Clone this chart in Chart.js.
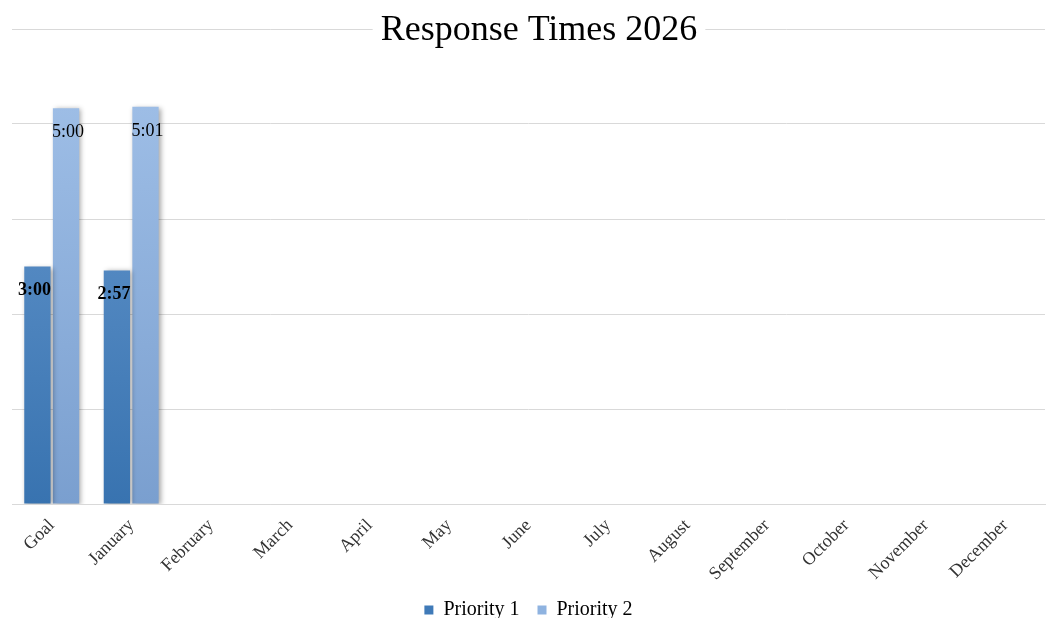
<!DOCTYPE html>
<html>
<head>
<meta charset="utf-8">
<script src="https://cdn.jsdelivr.net/npm/chart.js@4/dist/chart.umd.min.js"></script>
<style>
  html, body { margin: 0; padding: 0; background: #fff; }
  #wrap { width: 1047px; height: 618px; position: relative; }
</style>
</head>
<body>
<div id="wrap"><canvas id="responseChart"></canvas></div>
<script>
const categories = ['Goal', 'January', 'February', 'March', 'April', 'May', 'June',
    'July', 'August', 'September', 'October', 'November', 'December'];

// response times in seconds
const priority1 = [180, 177, null, null, null, null, null, null, null, null, null, null, null];
const priority2 = [300, 301, null, null, null, null, null, null, null, null, null, null, null];

const seriesNames = ['Priority 1', 'Priority 2'];
const yMax = 360;
const yStep = 72;

const serif = '"Liberation Serif", "Times New Roman", serif';

function fmtTime(sec) {
    const m = Math.floor(sec / 60);
    const s = Math.round(sec % 60);
    return m + ':' + String(s).padStart(2, '0');
}

function gradient(ctx, top, bottom) {
    const chart = ctx.chart;
    const area = chart.chartArea;
    if (!area) return bottom;
    const g = chart.ctx.createLinearGradient(0, area.top, 0, area.bottom);
    g.addColorStop(0, top);
    g.addColorStop(1, bottom);
    return g;
}

// bar shadows
const shadowPlugin = {
    id: 'shadow',
    beforeDatasetDraw(chart) {
        const c = chart.ctx;
        c.save();
        c.shadowColor = 'rgba(0,0,0,0.35)';
        c.shadowBlur = 5;
        c.shadowOffsetX = 2;
        c.shadowOffsetY = 1;
    },
    afterDatasetDraw(chart) {
        chart.ctx.restore();
    }
};

// value labels inside the top of each bar
const valueLabels = {
    id: 'valueLabels',
    afterDatasetsDraw(chart) {
        const c = chart.ctx;
        chart.data.datasets.forEach((ds, i) => {
            const meta = chart.getDatasetMeta(i);
            meta.data.forEach((bar, j) => {
                const v = ds.data[j];
                if (v == null) return;
                c.save();
                c.font = (i === 0 ? 'bold ' : '') + '18px ' + serif;
                c.fillStyle = '#000';
                c.textAlign = 'center';
                c.textBaseline = 'middle';
                c.fillText(fmtTime(v), bar.x + (i === 0 ? -3 : 2), bar.y + 24);
                c.restore();
            });
        });
    }
};

// title sits on the top gridline with a white box behind it
const titleBox = {
    id: 'titleBox',
    afterDraw(chart) {
        const c = chart.ctx;
        const text = 'Response Times 2026';
        c.save();
        c.font = '36px ' + serif;
        const w = c.measureText(text).width;
        const cx = 539, cy = 31;
        c.fillStyle = '#fff';
        c.fillRect(cx - w / 2 - 8, cy - 22, w + 16, 44);
        c.fillStyle = '#000';
        c.textAlign = 'center';
        c.textBaseline = 'middle';
        c.fillText(text, cx, cy);
        c.restore();
    }
};

const ctx = document.getElementById('responseChart').getContext('2d');
new Chart(ctx, {
    type: 'bar',
    data: {
        labels: categories,
        datasets: [{
            label: seriesNames[0],
            data: priority1,
            backgroundColor: c => gradient(c, '#6d9dd2', '#3873b0'),
            categoryPercentage: 0.72,
            barPercentage: 0.92
        }, {
            label: seriesNames[1],
            data: priority2,
            backgroundColor: c => gradient(c, '#a4c3ea', '#7a9fcf'),
            categoryPercentage: 0.72,
            barPercentage: 0.92
        }]
    },
    options: {
        responsive: true,
        maintainAspectRatio: false,
        animation: false,
        layout: { padding: { top: 29, left: 12, right: 2, bottom: -12 } },
        scales: {
            y: {
                min: 0,
                max: yMax,
                ticks: { display: false, stepSize: yStep },
                grid: { color: '#d9d9d9', lineWidth: 1, drawTicks: false },
                border: { display: false }
            },
            x: {
                grid: { display: false },
                border: { color: '#d9d9d9' },
                afterFit: s => { s.height = 78; },
                ticks: {
                    color: '#333',
                    font: { family: serif, size: 18 },
                    maxRotation: 45,
                    minRotation: 45,
                    padding: 3
                }
            }
        },
        plugins: {
            legend: {
                position: 'bottom',
                labels: {
                    color: '#333',
                    font: { family: serif, size: 20 },
                    boxWidth: 9,
                    boxHeight: 9,
                    padding: 18,
                    generateLabels: chart => seriesNames.map((n, i) => ({
                        text: n,
                        fillStyle: i === 0 ? '#3f7ab8' : '#8fb3e0',
                        strokeStyle: 'transparent',
                        lineWidth: 0,
                        datasetIndex: i
                    }))
                }
            },
            tooltip: { enabled: false }
        }
    },
    plugins: [shadowPlugin, valueLabels, titleBox]
});
</script>
</body>
</html>
